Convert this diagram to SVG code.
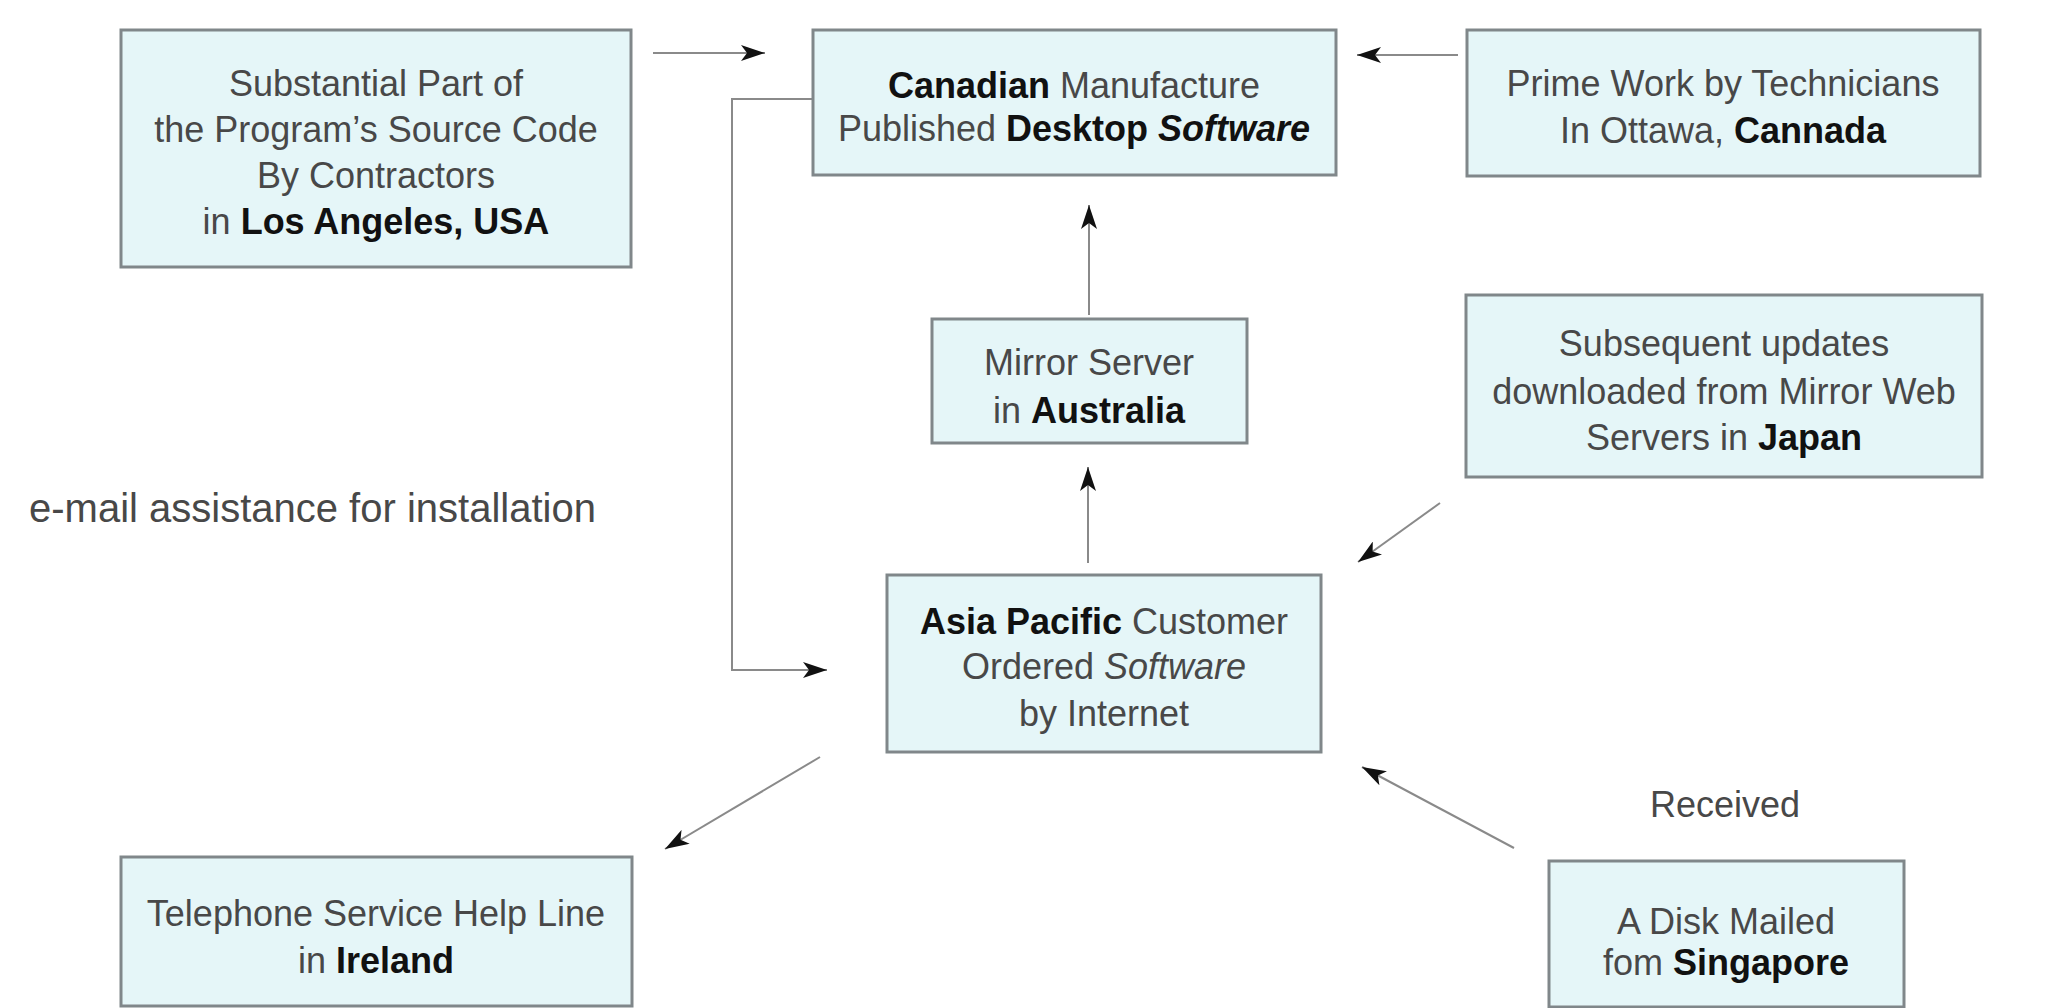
<svg xmlns="http://www.w3.org/2000/svg" width="2045" height="1008" viewBox="0 0 2045 1008">
  <defs>
    <marker id="ah" markerUnits="userSpaceOnUse" viewBox="0 0 24 16" refX="24" refY="8" markerWidth="24" markerHeight="16" orient="auto">
      <path d="M0,0 L24,8 L0,16 L6,8 Z" fill="#111"/>
    </marker>
  </defs>
  <style>
    .box { fill: #e5f6f8; stroke: #80878a; stroke-width: 3; }
    .t { font-family: "Liberation Sans", Arial, sans-serif; font-size: 36px; fill: #484848; text-anchor: middle; }
    .b { font-weight: bold; fill: #111; }
    .i { font-style: italic; }
    .free { font-family: "Liberation Sans", Arial, sans-serif; fill: #484848; }
    .conn { fill: none; stroke: #8a8a8a; stroke-width: 2; marker-end: url(#ah); }
  </style>
  <rect width="2045" height="1008" fill="#ffffff"/>

  <g id="connectors">
    <path class="conn" d="M653,53 H765"/>
    <path class="conn" d="M1458,55 H1357"/>
    <path class="conn" d="M1089,315 V205"/>
    <path class="conn" d="M1088,563 V467"/>
    <path class="conn" d="M813,99 H732 V670 H827"/>
    <path class="conn" d="M1440,503 L1358,562"/>
    <path class="conn" d="M1514,848 L1362,767"/>
    <path class="conn" d="M820,757 L665,849"/>
  </g>

  <g id="node-la">
    <rect class="box" x="121" y="30" width="510" height="237"/>
    <text class="t" x="376" y="96">Substantial Part of</text>
    <text class="t" x="376" y="142">the Program’s Source Code</text>
    <text class="t" x="376" y="188">By Contractors</text>
    <text class="t" x="376" y="234">in <tspan class="b">Los Angeles, USA</tspan></text>
  </g>

  <g id="node-canadian">
    <rect class="box" x="813" y="30" width="523" height="145"/>
    <text class="t" x="1074" y="98"><tspan class="b">Canadian</tspan> Manufacture</text>
    <text class="t" x="1074" y="141">Published <tspan class="b">Desktop</tspan> <tspan class="b i">Software</tspan></text>
  </g>

  <g id="node-prime">
    <rect class="box" x="1467" y="30" width="513" height="146"/>
    <text class="t" x="1723" y="96">Prime Work by Technicians</text>
    <text class="t" x="1723" y="143">In Ottawa, <tspan class="b">Cannada</tspan></text>
  </g>

  <g id="node-mirror">
    <rect class="box" x="932" y="319" width="315" height="124"/>
    <text class="t" x="1089" y="375">Mirror Server</text>
    <text class="t" x="1089" y="423">in <tspan class="b">Australia</tspan></text>
  </g>

  <g id="node-japan">
    <rect class="box" x="1466" y="295" width="516" height="182"/>
    <text class="t" x="1724" y="356">Subsequent updates</text>
    <text class="t" x="1724" y="404">downloaded from Mirror Web</text>
    <text class="t" x="1724" y="450">Servers in <tspan class="b">Japan</tspan></text>
  </g>

  <g id="node-asia">
    <rect class="box" x="887" y="575" width="434" height="177"/>
    <text class="t" x="1104" y="634"><tspan class="b">Asia Pacific</tspan> Customer</text>
    <text class="t" x="1104" y="679">Ordered <tspan class="i">Software</tspan></text>
    <text class="t" x="1104" y="726">by Internet</text>
  </g>

  <g id="node-ireland">
    <rect class="box" x="121" y="857" width="511" height="149"/>
    <text class="t" x="376" y="926">Telephone Service Help Line</text>
    <text class="t" x="376" y="973">in <tspan class="b">Ireland</tspan></text>
  </g>

  <g id="node-singapore">
    <rect class="box" x="1549" y="861" width="355" height="146"/>
    <text class="t" x="1726" y="934">A Disk Mailed</text>
    <text class="t" x="1726" y="975">fom <tspan class="b">Singapore</tspan></text>
  </g>

  <g id="label-received">
    <text class="t" x="1725" y="817">Received</text>
  </g>

  <g id="label-email">
    <text class="free" x="29" y="522" font-size="40">e-mail assistance for installation</text>
  </g>
</svg>
